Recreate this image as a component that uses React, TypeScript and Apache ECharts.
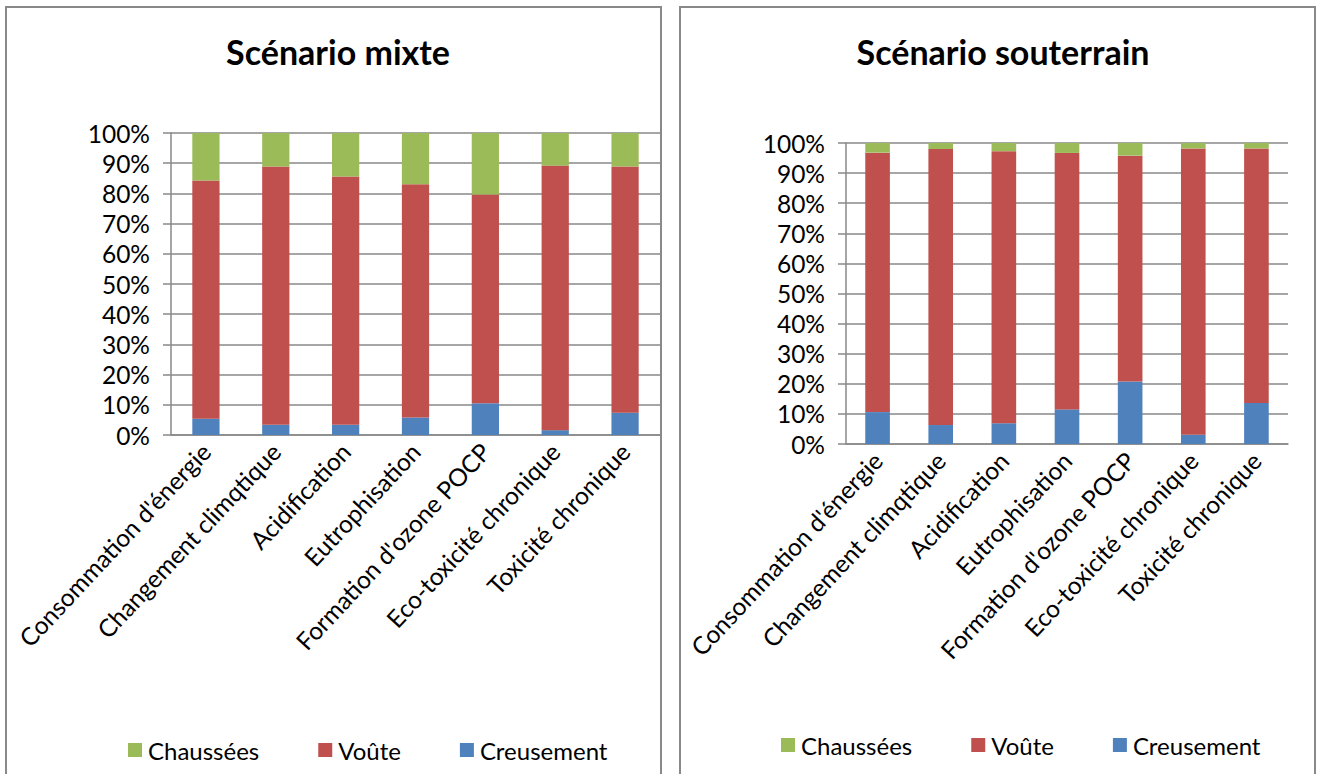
import React, { useEffect, useRef } from "react";
import * as echarts from "echarts";

const categories = [
  "Consommation d'énergie",
  "Changement climqtique",
  "Acidification",
  "Eutrophisation",
  "Formation d'ozone POCP",
  "Eco-toxicité chronique",
  "Toxicité chronique",
];
const seriesNames = ["Chaussées", "Voûte", "Creusement"];

// Scénario mixte (%)
const mixteCreusement = [5.4, 3.4, 3.4, 5.8, 10.5, 1.6, 7.4];
const mixteVoute = [78.9, 85.5, 82.2, 77.2, 69.1, 87.6, 81.5];
const mixteChaussees = [15.7, 11.1, 14.4, 17.0, 20.4, 10.8, 11.1];

// Scénario souterrain (%)
const soutCreusement = [10.6, 6.3, 6.9, 11.5, 20.8, 3.1, 13.6];
const soutVoute = [86.2, 91.7, 90.4, 85.2, 75.0, 95.1, 84.6];
const soutChaussees = [3.2, 2.0, 2.7, 3.3, 4.2, 1.8, 1.8];

const titles = ["Scénario mixte", "Scénario souterrain"];
const colors = { Chaussées: "#9BBB59", Voûte: "#C0504D", Creusement: "#4F81BD" };

const FONT = "Lato, 'Liberation Sans', sans-serif";
const GRAY = "#898989";

export default function App() {
  const ref = useRef<HTMLDivElement>(null);
  useEffect(() => {
    if (!ref.current) return;
    const chart = echarts.init(ref.current, null, { renderer: "svg" });
    const grids = [
      { left: 171, top: 133, width: 489, height: 302 },
      { left: 846, top: 143, width: 442, height: 301 },
    ];
    const xAxis = grids.map((_, i) => ({
      type: "category",
      gridIndex: i,
      data: categories,
      axisLine: { lineStyle: { color: GRAY, width: 1.5 } },
      axisTick: { length: 9, lineStyle: { color: GRAY, width: 1.5 } },
      axisLabel: {
        interval: 0,
        rotate: 47,
        margin: 12,
        color: "#000",
        fontSize: 24.5,
        fontFamily: FONT,
      },
    }));
    const yAxis = grids.map((_, i) => ({
      type: "value",
      gridIndex: i,
      min: 0,
      max: 100,
      interval: 10,
      axisLine: { show: true, lineStyle: { color: GRAY, width: 1.5 } },
      axisTick: { show: true, length: 8, lineStyle: { color: GRAY, width: 1.5 } },
      splitLine: { lineStyle: { color: GRAY, width: 1.5 } },
      axisLabel: {
        formatter: "{value}%",
        margin: 21,
        color: "#000",
        fontSize: 24.5,
        fontFamily: FONT,
      },
    }));
    const mk = (name: string, data: number[], i: number) => ({
      name,
      type: "bar",
      stack: "s" + i,
      xAxisIndex: i,
      yAxisIndex: i,
      data,
      barWidth: "39%",
      itemStyle: { color: (colors as any)[name] },
    });
    const series = [
      mk("Creusement", mixteCreusement, 0),
      mk("Voûte", mixteVoute, 0),
      mk("Chaussées", mixteChaussees, 0),
      mk("Creusement", soutCreusement, 1),
      mk("Voûte", soutVoute, 1),
      mk("Chaussées", soutChaussees, 1),
    ];
    const legendBase = {
      data: seriesNames,
      itemWidth: 14,
      itemHeight: 14,
      itemGap: 59,
      icon: "rect",
      textStyle: { fontSize: 24, fontFamily: FONT, color: "#000", padding: [0, 0, 0, 1] },
      selectedMode: false,
    };
    const titleStyle = { fontSize: 34, fontWeight: "bold", fontFamily: FONT, color: "#000" };
    chart.setOption({
      animation: false,
      backgroundColor: "#fff",
      title: [
        { text: titles[0], left: 333, top: 29, textAlign: "center", textStyle: titleStyle },
        { text: titles[1], left: 998, top: 29, textAlign: "center", textStyle: titleStyle },
      ],
      legend: [
        { ...legendBase, left: 123, top: 733 },
        { ...legendBase, left: 776, top: 728 },
      ],
      grid: grids,
      xAxis,
      yAxis,
      series,
      graphic: [
        {
          type: "rect",
          shape: { x: 6, y: 7, width: 655, height: 820 },
          style: { fill: "none", stroke: GRAY, lineWidth: 2 },
          silent: true,
        },
        {
          type: "rect",
          shape: { x: 680, y: 7, width: 635, height: 820 },
          style: { fill: "none", stroke: GRAY, lineWidth: 2 },
          silent: true,
        },
      ],
    });
    return () => chart.dispose();
  }, []);
  return (
    <div
      ref={ref}
      style={{ position: "absolute", left: 0, top: 0, width: 1317, height: 774 }}
    />
  );
}
